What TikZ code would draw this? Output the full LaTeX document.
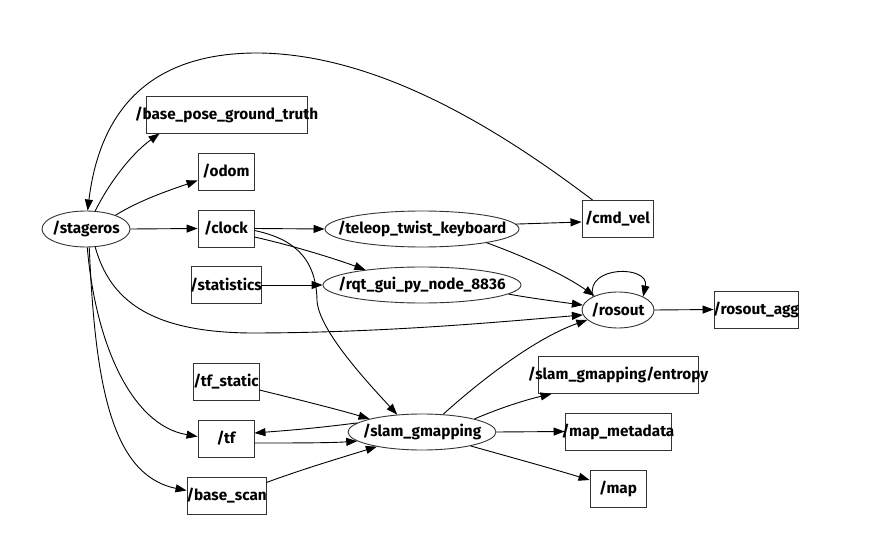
\documentclass[tikz,border=0pt]{standalone}
\usepackage{fontspec}
\setmainfont{Fira Sans}
\usetikzlibrary{shapes.geometric,arrows.meta}
\newcommand{\lbl}[1]{\makebox[0pt][c]{#1}}
\begin{document}
\begin{tikzpicture}[x=1pt,y=-1pt,
  every node/.style={font=\fontsize{15.3}{17}\selectfont\bfseries, inner sep=0pt, text=black},
  topic/.style={draw=black!80, line width=0.9pt, rectangle, minimum height=37pt},
  rosnode/.style={draw=black!80, line width=0.9pt, ellipse, minimum height=36pt},
  arr/.style={draw=black, line width=0.9pt, -{Triangle[length=11pt,width=8pt]}}]
\useasboundingbox (0,0) rectangle (876,556);
% nodes
\node[rosnode, minimum width=88pt] (stageros) at (86,229) {\lbl{/stageros}};
\node[rosnode, minimum width=194pt] (teleop) at (422,229) {\lbl{/teleop\_twist\_keyboard}};
\node[rosnode, minimum width=198pt] (rqt) at (422,285) {\lbl{/rqt\_gui\_py\_node\_8836}};
\node[rosnode, minimum width=72pt] (rosout) at (618,310) {\lbl{/rosout}};
\node[rosnode, minimum width=148pt] (slam) at (422,432) {\lbl{/slam\_gmapping}};
\node[topic, minimum width=161pt] (bpgt) at (226.5,114.5) {\lbl{/base\_pose\_ground\_truth}};
\node[topic, minimum width=56pt] (odom) at (226,171.5) {\lbl{/odom}};
\node[topic, minimum width=56pt] (clock) at (226,228.5) {\lbl{/clock}};
\node[topic, minimum width=70pt] (stats) at (226,285) {\lbl{/statistics}};
\node[topic, minimum width=71pt] (cmdvel) at (617.5,219) {\lbl{/cmd\_vel}};
\node[topic, minimum width=84pt] (rosoutagg) at (756,309.5) {\lbl{/rosout\_agg}};
\node[topic, minimum width=160pt] (entropy) at (618,375) {\lbl{/slam\_gmapping/entropy}};
\node[topic, minimum width=106pt] (mapmeta) at (618,431.5) {\lbl{/map\_metadata}};
\node[topic, minimum width=56pt] (map) at (618,488.5) {\lbl{/map}};
\node[topic, minimum width=66pt] (tfstatic) at (226,381.5) {\lbl{/tf\_static}};
\node[topic, minimum width=56pt] (tf) at (226,438.5) {\lbl{/tf}};
\node[topic, minimum width=79pt] (bscan) at (226.5,495.5) {\lbl{/base\_scan}};
% edges
\draw[arr] (stageros.63) .. controls (108,185) and (130,155) .. ([xshift=14pt]bpgt.south west);
\draw[arr] ([xshift=11pt]cmdvel.north west) .. controls (500,130) and (380,55) .. (260,53) .. controls (150,52) and (100,110) .. (stageros.85);
\draw[arr] (stageros.25) .. controls (140,200) and (170,190) .. ([yshift=-9pt]odom.west);
\draw[arr] (stageros.east) -- (clock.west);
\draw[arr] (clock.east) -- (teleop.west);
\draw[arr] ([yshift=-8.5pt]clock.east) .. controls (290,245) and (330,257) .. (rqt.165);
\draw[arr] ([yshift=-2pt]clock.east) .. controls (290,238) and (316,255) .. (317,300) .. controls (318,330) and (370,385) .. (slam.145);
\draw[arr] (stats.east) -- (rqt.west);
\draw[arr] (teleop.3.6) -- ([yshift=-3pt]cmdvel.west);
\draw[arr] (teleop.-12) .. controls (520,255) and (560,272) .. (rosout.149);
\draw[arr] (rqt.-6) .. controls (530,298) and (560,302) .. (rosout.172);
\draw[arr] (stageros.-63) .. controls (110,300) and (150,332) .. (250,333) .. controls (380,333) and (500,322) .. (rosout.188);
\draw[arr] (slam.40) .. controls (470,390) and (530,340) .. (rosout.198);
\draw[arr] (rosout.152) .. controls (585,265) and (650,265) .. (rosout.28);
\draw[arr] (rosout.east) -- (rosoutagg.west);
\draw[arr] (slam.14) .. controls (500,408) and (525,400) .. ([xshift=14pt]entropy.south west);
\draw[arr] (slam.east) -- (mapmeta.west);
\draw[arr] (slam.-16) .. controls (510,457) and (550,468) .. ([yshift=8.5pt]map.west);
\draw[arr] ([yshift=-8.5pt]tfstatic.east) .. controls (300,400) and (340,410) .. (slam.166);
\draw[arr] (slam.172) .. controls (310,429) and (280,431) .. ([yshift=5.5pt]tf.east);
\draw[arr] ([yshift=-4.5pt]tf.east) .. controls (290,443) and (330,443) .. (slam.188);
\draw[arr] ([yshift=13pt]bscan.east) .. controls (300,470) and (340,458) .. (slam.198);
\draw[arr] (stageros.-86) .. controls (95,340) and (130,425) .. ([yshift=2pt]tf.west);
\draw[arr] (stageros.-80) .. controls (95,380) and (110,475) .. ([yshift=5pt]bscan.west);
\end{tikzpicture}
\end{document}
